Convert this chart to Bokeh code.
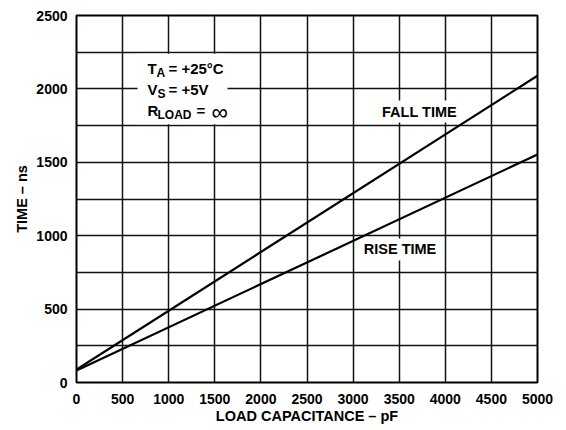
from bokeh.plotting import figure
from bokeh.models import FixedTicker, Label, BoxAnnotation, Range1d
from bokeh.embed import file_html
from bokeh.resources import INLINE

# Data
load_cap = [0, 5000]
fall_time = [88, 2090]
rise_time = [82, 1553]
x_ticks = [0, 500, 1000, 1500, 2000, 2500, 3000, 3500, 4000, 4500, 5000]
y_ticks = [0, 500, 1000, 1500, 2000, 2500]
y_grid = [0, 250, 500, 750, 1000, 1250, 1500, 1750, 2000, 2250, 2500]

FONT = "Liberation Sans"
FS = "14.5px"

p = figure(frame_width=461, frame_height=367, output_backend="svg", toolbar_location=None,
           x_range=Range1d(0, 5000), y_range=Range1d(0, 2500),
           min_border_left=76, min_border_right=21, min_border_top=15, min_border_bottom=40)
p.background_fill_color = "white"
p.border_fill_color = "white"
p.outline_line_color = "black"
p.outline_line_width = 2

for ax in (p.xaxis[0], p.yaxis[0]):
    ax.axis_line_color = None
    ax.major_tick_line_color = None
    ax.minor_tick_line_color = None
    ax.major_tick_out = 0
    ax.major_tick_in = 0
    ax.major_label_text_font = FONT
    ax.major_label_text_font_style = "bold"
    ax.major_label_text_font_size = "14px"
    ax.major_label_text_color = "black"
    ax.axis_label_text_font = FONT
    ax.axis_label_text_font_style = "bold"
    ax.axis_label_text_font_size = FS
    ax.axis_label_text_color = "black"

p.xaxis.ticker = FixedTicker(ticks=x_ticks)
p.yaxis.ticker = FixedTicker(ticks=y_ticks)
p.xaxis.axis_label = "LOAD CAPACITANCE – pF"
p.yaxis.axis_label = "TIME – ns"
p.xaxis.major_label_standoff = 11
p.yaxis.major_label_standoff = 9
p.xaxis.axis_label_standoff = 1
p.yaxis.axis_label_standoff = 3

p.xgrid.ticker = FixedTicker(ticks=x_ticks)
p.ygrid.ticker = FixedTicker(ticks=y_grid)
for g in (p.xgrid[0], p.ygrid[0]):
    g.grid_line_color = "#111111"
    g.grid_line_width = 1.5

p.line(load_cap, fall_time, line_color="black", line_width=2.2)
p.line(load_cap, rise_time, line_color="black", line_width=2.2)

# white box behind condition text
p.add_layout(BoxAnnotation(left=662, right=1638, bottom=1760, top=2240,
                           fill_color="white", fill_alpha=1, line_alpha=0, level="overlay"))

def lab(x, y, text, size=FS, bg=None, align="left", baseline="alphabetic", style="bold"):
    l = Label(x=x, y=y, text=text, text_font=FONT, text_font_style=style,
              text_font_size=size, text_color="black", text_align=align,
              text_baseline=baseline, level="overlay")
    if bg:
        l.background_fill_color = bg
        l.padding = 3
    p.add_layout(l)

pxx = 5000 / 461.0
pxy = 2500 / 367.0

def dx(px):
    return (px - 76) * pxx

def dy(py):
    return (382 - py) * pxy

MAIN = "15px"
SUB = "12px"
# Row 1
lab(dx(147), dy(68), "T", MAIN)
lab(dx(156), dy(72.5), "A", SUB)
lab(dx(168), dy(68), "= +25°C", MAIN)
# Row 2
lab(dx(147), dy(89), "V", MAIN)
lab(dx(157), dy(93), "S", SUB)
lab(dx(168), dy(89), "= +5V", MAIN)
# Row 3
lab(dx(147), dy(110), "R", MAIN)
lab(dx(157), dy(114.5), "LOAD", SUB)
lab(dx(196), dy(110), "=", MAIN)
lab(dx(211), dy(111), "∞", "23px", style="normal")

lab(3720, 1846, "FALL TIME", bg="white", align="center", baseline="middle")
lab(3509, 906, "RISE TIME", bg="white", align="center", baseline="middle")

open("out.html", "w").write(file_html(p, INLINE))
